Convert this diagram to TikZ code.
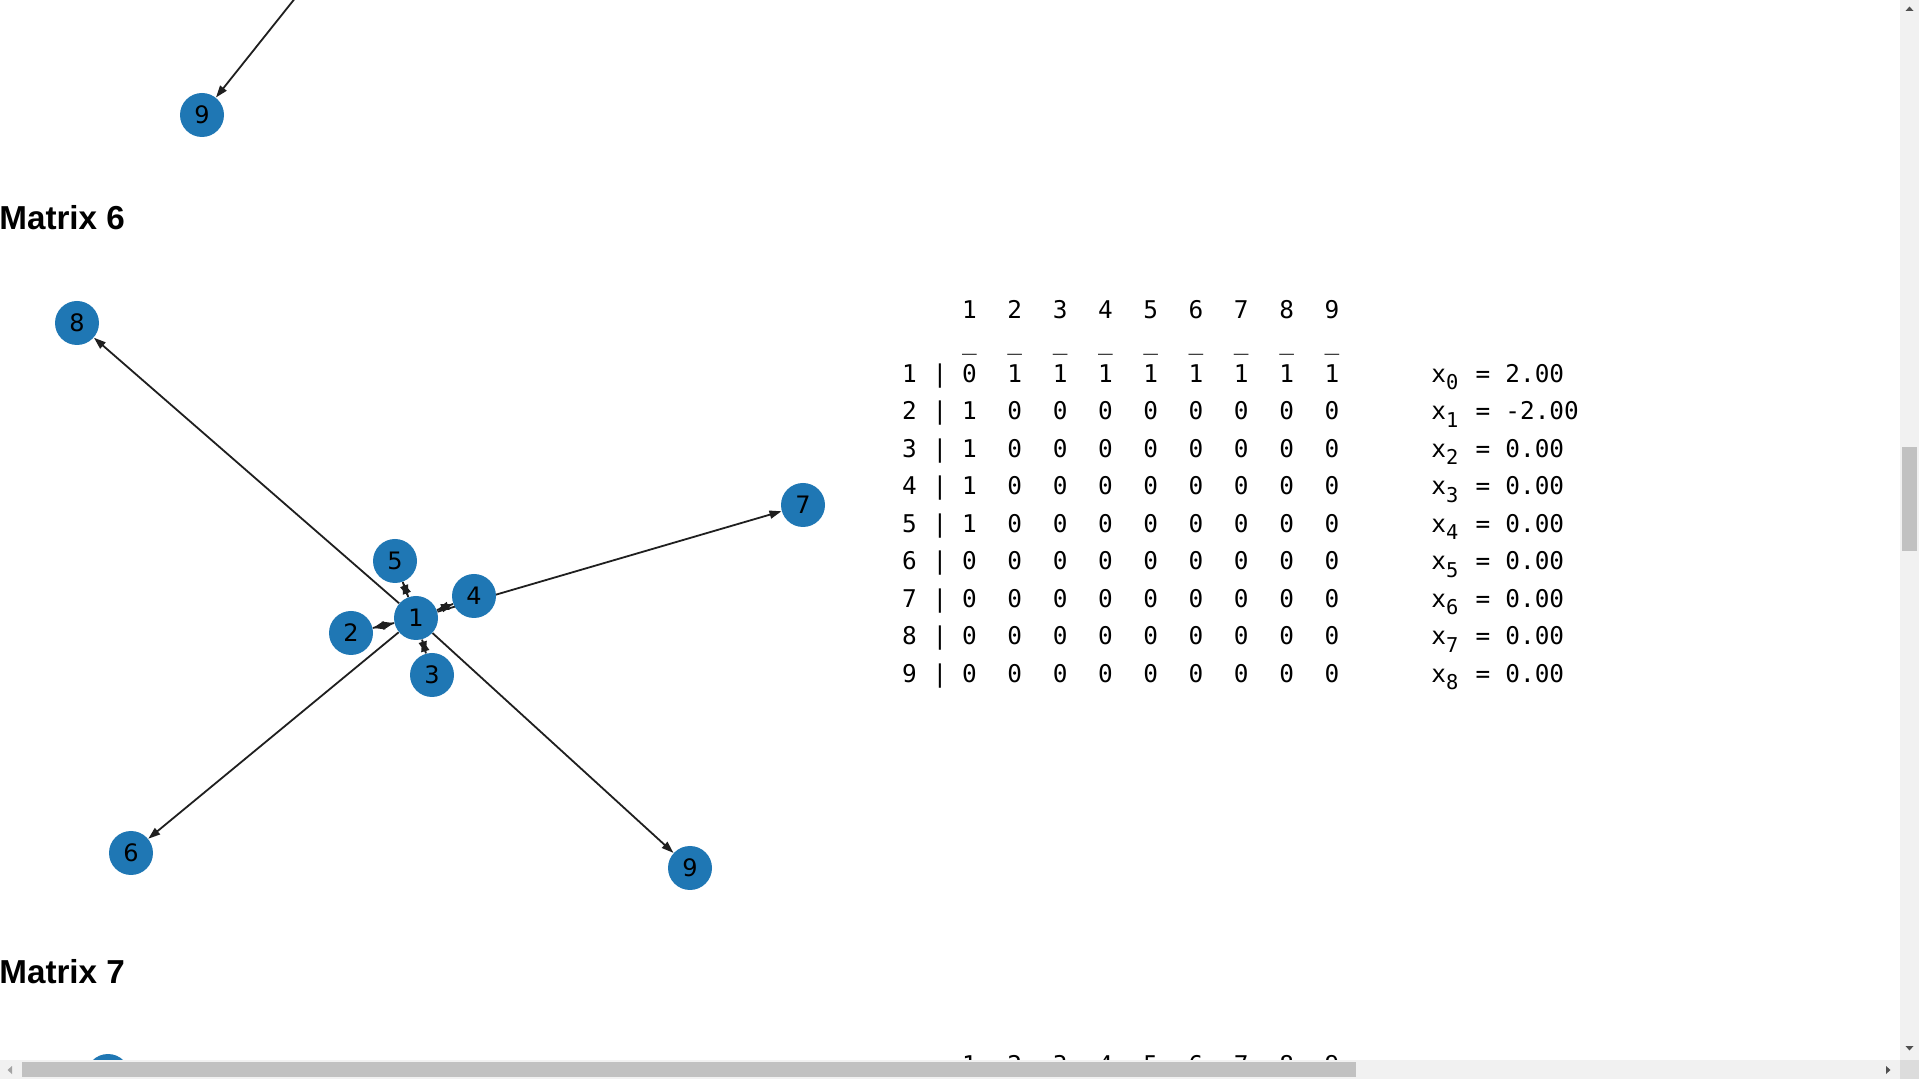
\documentclass[tikz,border=0pt]{standalone}
\usepackage{fontspec}
\setmainfont{DejaVu Sans}
\newfontfamily\monof{DejaVu Sans Mono}
\newfontfamily\titlef{Liberation Sans}
\usetikzlibrary{arrows.meta,backgrounds}
\definecolor{nodeblue}{HTML}{1F77B4}
\definecolor{sbtrack}{HTML}{F1F1F1}
\definecolor{sbthumb}{HTML}{C1C1C1}
\definecolor{sblight}{HTML}{A3A3A3}
\definecolor{sbdark}{HTML}{505050}
\definecolor{sbcorner}{HTML}{DCDCDC}
\tikzset{
  gnode/.style={circle, fill=nodeblue, minimum size=22pt, inner sep=0pt, text=black,
    font=\fontsize{12}{13}\selectfont},
  gedge/.style={draw=black!88, line width=0.9pt, -{Triangle[length=6pt,width=4pt]}},
  mtx/.style={font=\monof\fontsize{12.2}{14}\selectfont, inner sep=0pt, anchor=base},
  mtxl/.style={mtx, anchor=base west},
  titletext/.style={font=\titlef\bfseries\fontsize{16.6}{18}\selectfont, inner sep=0pt, anchor=base west},
}
\begin{document}
\begin{tikzpicture}[x=0.5pt,y=-0.5pt]
\useasboundingbox (0,0) rectangle (1919,1079);

% previous graph fragment
\coordinate (topstart) at (312,-23);
\node[gnode] (p9) at (202,115) {9};

% titles
\node[titletext] (t6) at (-1,230) {Matrix 6};
\node[titletext] (t7) at (-1,984) {Matrix 7};

% graph of matrix 6
\node[gnode] (n1) at (416,618) {1};
\node[gnode] (n2) at (351,633) {2};
\node[gnode] (n3) at (432,675) {3};
\node[gnode] (n4) at (474,596) {4};
\node[gnode] (n5) at (395,561) {5};
\node[gnode] (n6) at (131,853) {6};
\node[gnode] (n7) at (803,505) {7};
\node[gnode] (n8) at (77,323) {8};
\node[gnode] (n9) at (690,868) {9};

\begin{scope}[on background layer]
\fill[white] (0,0) rectangle (1919,1079);
\draw[gedge] (topstart) -- (p9);
\draw[gedge] (n1) -- (n8);
\draw[gedge] (n1) -- (n7);
\draw[gedge] (n1) -- (n6);
\draw[gedge] (n1) -- (n9);
\draw[gedge] (n1) -- (n2);
\draw[gedge] (n2) -- (n1);
\draw[gedge] (n1) -- (n3);
\draw[gedge] (n3) -- (n1);
\draw[gedge] (n1) -- (n4);
\draw[gedge] (n4) -- (n1);
\draw[gedge] (n1) -- (n5);
\draw[gedge] (n5) -- (n1);
\end{scope}

% matrix 6
\foreach \c in {1,...,9} {
  \node[mtx] (h-\c) at ({969.5+45.3*(\c-1)},318.5) {\c};
  \node[mtx] (u-\c) at ({969.5+45.3*(\c-1)},349.5) {\_};
  \node[mtx] (hb-\c) at ({969.5+45.3*(\c-1)},1073) {\c};
}
\foreach \r/\val in {1/2.00,2/-2.00,3/0.00,4/0.00,5/0.00,6/0.00,7/0.00,8/0.00,9/0.00} {
  \pgfmathsetmacro\ry{382.3+37.5*(\r-1)}
  \pgfmathtruncatemacro\k{\r-1}
  \node[mtx] (rl-\r) at (909.4,\ry) {\r};
  \node[mtx] (bar-\r) at (940,\ry) {|};
  \foreach \c in {1,...,9} {
    \pgfmathtruncatemacro\v{(\r==1)*(\c>1)+(\r>1)*(\r<6)*(\c==1)}
    \node[mtx] (m-\r-\c) at ({969.5+45.3*(\c-1)},\ry) {\v};
  }
  \node[mtxl] (x-\r) at (1431,\ry) {x\raisebox{-0.3em}{\fontsize{10.2}{11}\selectfont\k}};
  \node[mtx] (eq-\r) at (1483,\ry) {=};
  \node[mtxl] (val-\r) at (1505,\ry) {\val};
}

% next graph fragment
\node[gnode] (q1) at (108,1076) {};

% scrollbars
\fill[sbtrack] (1900,0) rectangle (1919,1079);
\fill[sbtrack] (0,1060) rectangle (1919,1079);
\fill[sbcorner] (1900,1060) rectangle (1919,1079);
\fill[sbthumb] (1902,447) rectangle (1917,551);
\fill[sbthumb] (22,1062) rectangle (1356,1077);
\fill[sbdark] (1905.5,11) -- (1913.5,11) -- (1909.5,6.5) -- cycle;
\fill[sbdark] (1905.5,1046) -- (1913.5,1046) -- (1909.5,1050.5) -- cycle;
\fill[sblight] (12,1066) -- (12,1074) -- (7.5,1070) -- cycle;
\fill[sbdark] (1886,1066) -- (1886,1074) -- (1890.5,1070) -- cycle;
\end{tikzpicture}
\end{document}
